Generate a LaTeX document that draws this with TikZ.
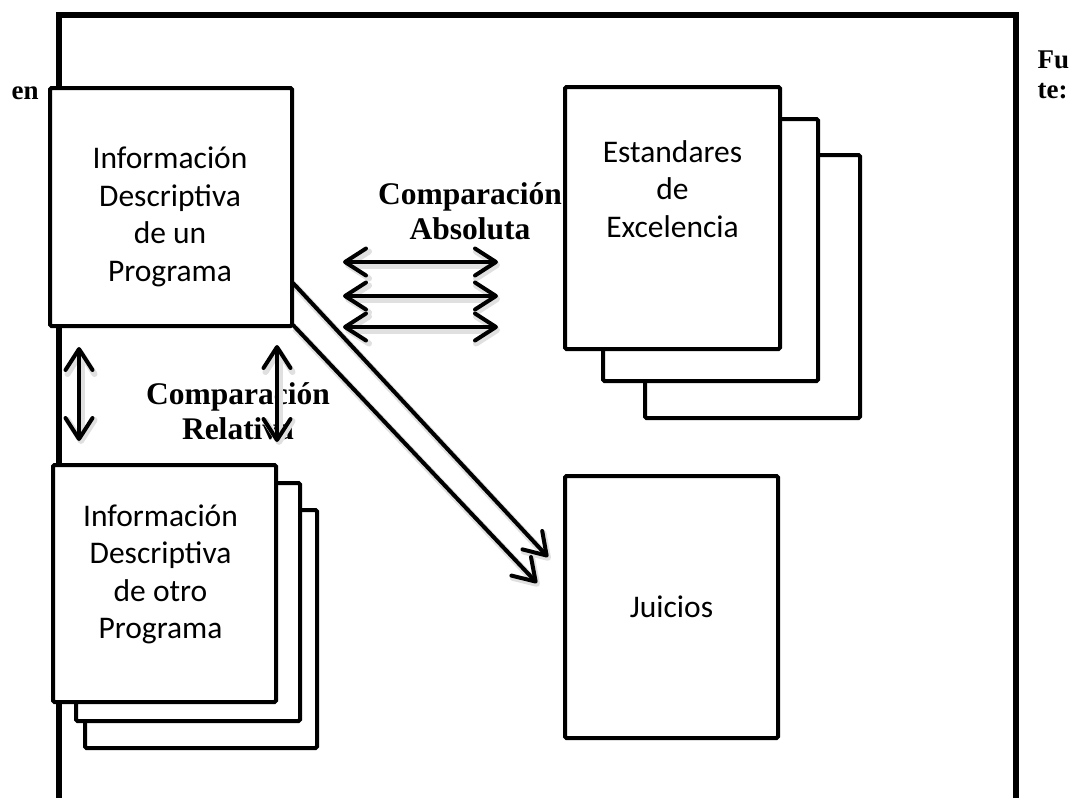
\documentclass[tikz,border=0pt]{standalone}
\usepackage{fontspec}
\setmainfont{Carlito}
\newfontfamily\labelfont{Liberation Serif}
\usetikzlibrary{arrows.meta,calc}
\tikzset{
  frameline/.style={line width=5.5pt, line cap=rect},
  box/.style={draw, fill=white, line width=4pt, rounded corners=1.5pt, inner sep=0pt},
  boxtext/.style={align=center, font=\fontsize{31.5}{37.5}\selectfont},
  cmplabel/.style={align=center, font=\labelfont\bfseries\fontsize{31.5}{35}\selectfont},
  sidelabel/.style={anchor=base west, font=\labelfont\bfseries\fontsize{27}{30}\selectfont},
  barb/.tip={Straight Barb[length=21pt,width=27pt,line width=4pt,round]},
  shadowbarb/.tip={Straight Barb[length=21pt,width=27pt,line width=6pt,round]},
  soft/.style={preaction={draw=black!12, line width=7pt, #1,
      transform canvas={shift={(2pt,-3pt)}}}},
  dblarrow/.style={line width=4pt, {barb}-{barb}, soft={{shadowbarb}-{shadowbarb}}},
  onearrow/.style={line width=4pt, -{barb}, soft={-{shadowbarb}}},
}
\begin{document}
\begin{tikzpicture}[x=1pt,y=-1pt]
\useasboundingbox[fill=white] (0,0) rectangle (1069,798);

% outer frame
\coordinate (fBL) at (59,805);
\coordinate (fTL) at (59,15);
\coordinate (fTR) at (1016,15);
\coordinate (fBR) at (1016,805);
\draw[frameline] (fBL) -- (fTL) -- (fTR) -- (fBR);

% side fragments
\node[sidelabel] (en) at (8,99) {en};
\node[sidelabel] (fu) at (1034,68) {Fu};
\node[sidelabel] (te) at (1034,98) {te:};

% comparison labels
\node[cmplabel] (abs) at (470,211) {Comparación\\Absoluta};
\node[cmplabel] (rel) at (238,411) {Comparación\\Relativa};

% arrow end points
\coordinate (h1a) at (343,262); \coordinate (h1b) at (498,262);
\coordinate (h2a) at (343,296); \coordinate (h2b) at (498,296);
\coordinate (h3a) at (343,327); \coordinate (h3b) at (498,327);
\coordinate (v1a) at (79,347);  \coordinate (v1b) at (79,441);
\coordinate (v2a) at (277,345); \coordinate (v2b) at (277,442);
\coordinate (d1a) at (293,283); \coordinate (d1b) at (548,557);
\coordinate (d2a) at (293,325); \coordinate (d2b) at (537,583);

\draw[dblarrow] (h1a) -- (h1b);
\draw[dblarrow] (h2a) -- (h2b);
\draw[dblarrow] (h3a) -- (h3b);
\draw[dblarrow] (v1a) -- (v1b);
\draw[dblarrow] (v2a) -- (v2b);
\draw[onearrow] (d1a) -- (d1b);
\draw[onearrow] (d2a) -- (d2b);

% stack: otro programa
\node[box, minimum width=232pt, minimum height=238pt] (B3) at (201,629) {};
\node[box, minimum width=224pt, minimum height=238pt] (B2) at (188,602) {};
\node[box, minimum width=223pt, minimum height=237pt] (B) at (164.5,583.5) {};
\node[boxtext] (tB) at ($(B.center)+(-4,-9)$) {Información\\Descriptiva\\de otro\\Programa};

% stack: estandares
\node[box, minimum width=215pt, minimum height=263pt] (C3) at (752.5,286.5) {};
\node[box, minimum width=215pt, minimum height=262pt] (C2) at (710.5,250) {};
\node[box, minimum width=215pt, minimum height=262pt] (C) at (672.5,218) {};
\node[boxtext] (tC) at ($(C.center)+(0,-29)$) {Estandares\\de\\Excelencia};

% program box
\node[box, minimum width=242pt, minimum height=238pt] (A) at (171,207) {};
\node[boxtext] (tA) at ($(A.center)+(-1,10)$) {Información\\Descriptiva\\de un\\Programa};

% juicios
\node[box, minimum width=213pt, minimum height=262pt] (D) at (671.5,607) {};
\node[boxtext] (tD) at (D.center) {Juicios};
\end{tikzpicture}
\end{document}
